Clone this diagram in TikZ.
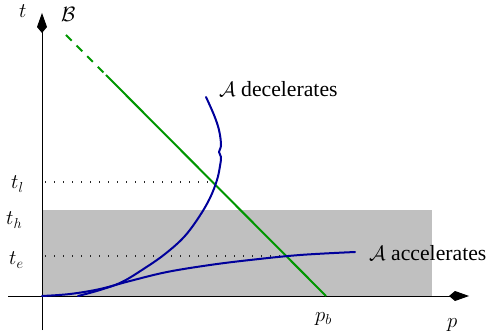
\documentclass[tikz,border=0pt]{standalone}
\usepackage{fontspec}
\setmainfont{Liberation Serif}
\usetikzlibrary{arrows.meta}
\definecolor{bandgray}{RGB}{192,192,192}
\definecolor{worldgreen}{RGB}{0,150,0}
\definecolor{worldblue}{RGB}{0,0,155}
\begin{document}
\begin{tikzpicture}[x=1pt,y=-1pt,
  axis/.style={line width=1pt,-{Kite[length=20pt,width=10pt,inset=6pt]}},
  guide/.style={line width=1.3pt,dash pattern=on 1.3pt off 7.7pt,black!85},
  lab/.style={inner sep=0pt,anchor=base west,font=\fontsize{21}{25}\selectfont},
  wlab/.style={lab,font=\fontsize{21.7}{26}\selectfont},
  bline/.style={line width=2pt,worldgreen},
  aline/.style={line width=2pt,worldblue,line join=round,line cap=round}]
\useasboundingbox (0,0) rectangle (489,336);
% band
\fill[bandgray] (42,210) rectangle (432,296);
% axes
\coordinate (O) at (42,296);
\coordinate (tend) at (42,13);
\coordinate (tstart) at (42,330);
\coordinate (pstart) at (8,296);
\coordinate (pend) at (469,296);
\draw[axis] (tstart) -- (tend);
\draw[axis] (pstart) -- (pend);
% dotted guides
\coordinate (gl0) at (45,182);
\coordinate (gl1) at (218,182);
\coordinate (ge0) at (45,256);
\coordinate (ge1) at (288,256);
\draw[guide] (gl0) -- (gl1);
\draw[guide] (ge0) -- (ge1);
% B worldline
\coordinate (b0) at (66,35);
\coordinate (b1) at (106,75);
\coordinate (pb) at (326,296);
\draw[bline,dash pattern=on 8pt off 7pt] (b0) -- (b1);
\draw[bline] (b1) -- (pb);
% A decelerates
\draw[aline] plot[smooth,tension=0.6] coordinates {
 (78,296) (100,290) (122,282) (145,268) (165,254) (184,237) (199,217)
 (210,198) (217,180) (220,166) (221,157) (219,152) (221,145) (219,130) (214,115) (206,97)};
% A accelerates
\draw[aline] plot[smooth,tension=0.6] coordinates {
 (42,296) (70,294) (100,289) (130,281) (167,272) (210,265) (250,260) (300,255) (355,252)};
% labels
\node[lab] (tl) at (19,18) {$t$};
\node[lab] (bl) at (61,22) {$\mathcal{B}$};
\node[lab] (tll) at (11,189) {$t_l$};
\node[lab] (thl) at (6,225) {$t_h$};
\node[lab] (tel) at (9,265) {$t_e$};
\node[lab] (pbl) at (315,321) {$p_b$};
\node[lab] (pl) at (447,327) {$p$};
\node[wlab] (dec) at (219,97) {$\mathcal{A}$ decelerates};
\node[wlab] (acc) at (369,261) {$\mathcal{A}$ accelerates};
\end{tikzpicture}
\end{document}
